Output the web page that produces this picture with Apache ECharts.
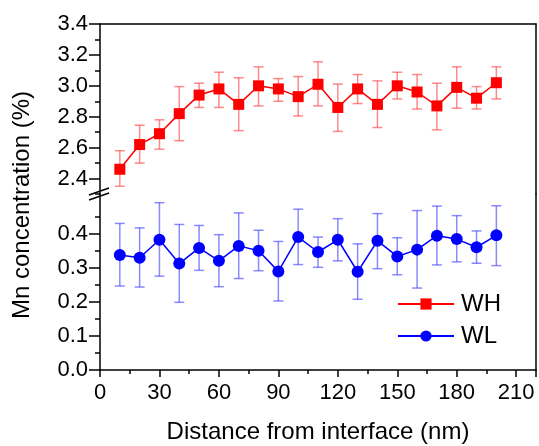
<!DOCTYPE html>
<html><head><meta charset="utf-8">
<script src="https://cdn.jsdelivr.net/npm/echarts@6/dist/echarts.min.js"></script>
<style>html,body{margin:0;padding:0;background:#fff;}#c{width:539px;height:446px;}</style>
</head><body><div id="c"></div>
<script>
var distances = [10,20,30,40,50,60,70,80,90,100,110,120,130,140,150,160,170,180,190,200];
var whMean = [2.46,2.62,2.69,2.82,2.94,2.98,2.88,3.00,2.98,2.93,3.01,2.86,2.98,2.88,3.00,2.96,2.87,2.99,2.92,3.02];
var whLow  = [2.35,2.50,2.59,2.645,2.86,2.86,2.71,2.87,2.90,2.805,2.87,2.705,2.885,2.73,2.915,2.85,2.715,2.855,2.85,2.915];
var whHigh = [2.58,2.745,2.78,2.995,3.017,3.088,3.052,3.123,3.047,3.06,3.155,3.011,3.073,3.032,3.088,3.073,3.017,3.123,2.995,3.123];
var wlMean = [0.338,0.330,0.383,0.313,0.359,0.321,0.365,0.351,0.290,0.391,0.347,0.383,0.289,0.380,0.334,0.354,0.395,0.385,0.361,0.396];
var wlLow  = [0.247,0.244,0.276,0.199,0.293,0.245,0.269,0.292,0.203,0.310,0.302,0.321,0.208,0.298,0.280,0.241,0.309,0.318,0.314,0.307];
var wlHigh = [0.431,0.418,0.492,0.428,0.425,0.398,0.462,0.411,0.378,0.473,0.391,0.445,0.371,0.460,0.389,0.469,0.482,0.454,0.409,0.483];
var xTicks = [0,30,60,90,120,150,180,210];
var upperTicks = [2.4,2.6,2.8,3.0,3.2,3.4];
var upperMinor = [2.3,2.5,2.7,2.9,3.1,3.3];
var lowerTicks = [0.0,0.1,0.2,0.3,0.4];
var lowerMinor = [0.05,0.15,0.25,0.35,0.45];

var FONT = 'Liberation Sans, Arial, sans-serif';
var chart = echarts.init(document.getElementById('c'));

function zip(a,b){return a.map(function(v,i){return [v,b[i]];});}
function zip3(a,b,c){return a.map(function(v,i){return [v,b[i],c[i]];});}

function errRender(color){
  return function(params, api){
    var x = api.value(0);
    var lo = api.coord([x, api.value(1)]);
    var hi = api.coord([x, api.value(2)]);
    var w = 5;
    var st = {stroke: color, lineWidth: 1.5};
    return {type:'group', children:[
      {type:'line', shape:{x1:lo[0],y1:lo[1],x2:hi[0],y2:hi[1]}, style:st},
      {type:'line', shape:{x1:lo[0]-w,y1:lo[1],x2:lo[0]+w,y2:lo[1]}, style:st},
      {type:'line', shape:{x1:hi[0]-w,y1:hi[1],x2:hi[0]+w,y2:hi[1]}, style:st}
    ]};
  };
}

var axisLine = {show:true, lineStyle:{color:'#000', width:1.5}};
var lbl = {fontFamily:FONT, fontSize:22, color:'#000'};

var option = {
  animation:false,
  backgroundColor:'#fff',
  grid:[
    {left:100, width:436, top:24, height:170},
    {left:100, width:436, top:194, height:176}
  ],
  xAxis:[
    {gridIndex:0, type:'value', min:0, max:220, position:'top', axisLine:axisLine, axisTick:{show:false}, axisLabel:{show:false}, splitLine:{show:false}},
    {gridIndex:1, type:'value', min:0, max:220, interval:30, position:'bottom', axisLine:axisLine,
     axisTick:{show:true, inside:false, length:7, lineStyle:{width:1.5,color:'#000'}},
     minorTick:{show:true, splitNumber:2, length:4, lineStyle:{width:1.5,color:'#000'}},
     axisLabel:Object.assign({margin:12}, lbl), splitLine:{show:false}, minorSplitLine:{show:false},
     name:'Distance from interface (nm)', nameLocation:'middle', nameGap:50,
     nameTextStyle:{fontFamily:FONT, fontSize:24, color:'#000'}}
  ],
  yAxis:[
    {gridIndex:0, type:'value', min:2.3, max:3.4, position:'left', axisLine:axisLine,
     axisTick:{show:true, length:11, customValues:upperTicks, lineStyle:{width:1.5,color:'#000'}},
     axisLabel:Object.assign({margin:12, customValues:upperTicks, formatter:function(v){return v.toFixed(1);}}, lbl),
     splitLine:{show:false}},
    {gridIndex:0, type:'value', min:2.3, max:3.4, position:'left', axisLine:{show:false},
     axisTick:{show:true, length:5, customValues:upperMinor, lineStyle:{width:1.5,color:'#000'}},
     axisLabel:{show:false, customValues:upperMinor}, splitLine:{show:false}},
    {gridIndex:0, type:'value', min:2.3, max:3.4, position:'right', axisLine:axisLine, axisTick:{show:false}, axisLabel:{show:false}, splitLine:{show:false}},
    {gridIndex:1, type:'value', min:0, max:0.5176, position:'left', axisLine:axisLine,
     axisTick:{show:true, length:11, customValues:lowerTicks, lineStyle:{width:1.5,color:'#000'}},
     axisLabel:Object.assign({margin:12, customValues:lowerTicks, formatter:function(v){return v.toFixed(1);}}, lbl),
     splitLine:{show:false}},
    {gridIndex:1, type:'value', min:0, max:0.5176, position:'left', axisLine:{show:false},
     axisTick:{show:true, length:5, customValues:lowerMinor, lineStyle:{width:1.5,color:'#000'}},
     axisLabel:{show:false, customValues:lowerMinor}, splitLine:{show:false}},
    {gridIndex:1, type:'value', min:0, max:0.5176, position:'right', axisLine:axisLine, axisTick:{show:false}, axisLabel:{show:false}, splitLine:{show:false}}
  ],
  legend:{
    orient:'vertical', left:392, top:287, itemWidth:56, itemHeight:14, itemGap:8,
    textStyle:{fontFamily:FONT, fontSize:24, color:'#000', lineHeight:24, padding:[0,0,0,2]},
    data:['WH','WL']
  },
  graphic:[
    {type:'text', x:22, y:205, rotation:Math.PI/2, style:{text:'Mn concentration (%)', fontFamily:FONT, fontSize:24, fill:'#000', align:'center', verticalAlign:'middle'}},
    {type:'line', shape:{x1:89,y1:195,x2:109,y2:188}, style:{stroke:'#000', lineWidth:1.5}, z:100},
    {type:'line', shape:{x1:89,y1:200,x2:109,y2:193}, style:{stroke:'#000', lineWidth:1.5}, z:100}
  ],
  series:[
    {name:'WH err', type:'custom', xAxisIndex:0, yAxisIndex:0, data:zip3(distances, whLow, whHigh), renderItem:errRender('rgba(255,60,60,0.6)'), encode:{x:0,y:[1,2]}, z:1, silent:true},
    {name:'WL err', type:'custom', xAxisIndex:1, yAxisIndex:3, data:zip3(distances, wlLow, wlHigh), renderItem:errRender('rgba(60,60,255,0.6)'), encode:{x:0,y:[1,2]}, z:1, silent:true},
    {name:'WH', type:'line', xAxisIndex:0, yAxisIndex:0, data:zip(distances, whMean), symbol:'rect', symbolSize:11,
     lineStyle:{color:'#ff0000', width:1.5}, itemStyle:{color:'#ff0000'}, z:3},
    {name:'WL', type:'line', xAxisIndex:1, yAxisIndex:3, data:zip(distances, wlMean), symbol:'circle', symbolSize:12,
     lineStyle:{color:'#0000ff', width:1.5}, itemStyle:{color:'#0000ff'}, z:3}
  ]
};
chart.setOption(option);
</script></body></html>
